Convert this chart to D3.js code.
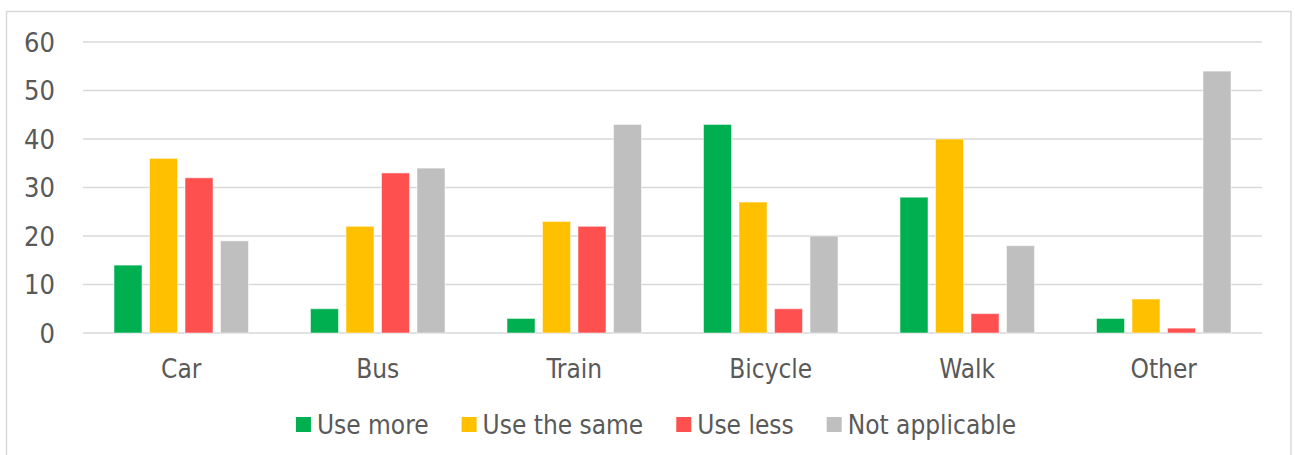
<!DOCTYPE html>
<html>
<head>
<meta charset="utf-8">
<script src="https://cdn.jsdelivr.net/npm/d3@7"></script>
<style>
  body { margin: 0; background: #fff; }
  svg text { font-family: "DejaVu Sans Condensed", "DejaVu Sans", sans-serif; font-stretch: condensed; fill: #595959; }
</style>
</head>
<body>
<svg width="1295" height="455"></svg>
<script>
// chart data
var categories = ["Car", "Bus", "Train", "Bicycle", "Walk", "Other"];
var seriesNames = ["Use more", "Use the same", "Use less", "Not applicable"];
var useMore     = [14, 5, 3, 43, 28, 3];
var useSame     = [36, 22, 23, 27, 40, 7];
var useLess     = [32, 33, 22, 5, 4, 1];
var notApplic   = [19, 34, 43, 20, 18, 54];
var yTicks      = [0, 10, 20, 30, 40, 50, 60];

var colors = ["#00B050", "#FFC000", "#FF5050", "#BFBFBF"];
var series = [useMore, useSame, useLess, notApplic];

var svg = d3.select("svg"),
    plot = {left: 83, right: 1262, top: 42, bottom: 333};

// outer chart frame
svg.append("rect")
    .attr("x", 6.5).attr("y", 11.5)
    .attr("width", 1284.5).attr("height", 480)
    .attr("fill", "#fff")
    .attr("stroke", "#d9d9d9")
    .attr("stroke-width", 1.5);

var x0 = d3.scaleBand().domain(categories).range([plot.left, plot.right]).paddingInner(0).paddingOuter(0);
var y = d3.scaleLinear().domain([0, 60]).range([plot.bottom, plot.top]);

// bars inside a band: 4 bars of 28px with 7px gaps, centred
var barW = 28, barStep = 35.5;

// gridlines
svg.append("g")
  .selectAll("line")
  .data(yTicks)
  .join("line")
    .attr("x1", plot.left).attr("x2", plot.right)
    .attr("y1", d => y(d)).attr("y2", d => y(d))
    .attr("stroke", "#d9d9d9")
    .attr("stroke-width", 1.4);

// y tick labels
svg.append("g")
  .selectAll("text")
  .data(yTicks)
  .join("text")
    .attr("x", 55)
    .attr("y", d => y(d))
    .attr("dy", "0.36em")
    .attr("text-anchor", "end")
    .style("font-size", "27px")
    .text(d => d);

// bars
var groups = svg.append("g")
  .selectAll("g")
  .data(categories)
  .join("g")
    .attr("transform", d => "translate(" + (x0(d) + x0.bandwidth() / 2) + ",0)");

groups.selectAll("rect")
  .data((c, i) => series.map((s, k) => ({k: k, v: s[i]})))
  .join("rect")
    .attr("x", d => (d.k - 1.5) * barStep - barW / 2)
    .attr("width", barW)
    .attr("y", d => y(d.v))
    .attr("height", d => y(0) - y(d.v))
    .attr("fill", d => colors[d.k])
    .attr("stroke", "#fff")
    .attr("stroke-opacity", 0.5)
    .attr("stroke-width", 1);

// category labels
svg.append("g")
  .selectAll("text")
  .data(categories)
  .join("text")
    .attr("x", d => x0(d) + x0.bandwidth() / 2)
    .attr("y", 378)
    .attr("text-anchor", "middle")
    .style("font-size", "26px")
    .text(d => d);

// legend
var legend = svg.append("g");
var items = legend.selectAll("g")
  .data(seriesNames)
  .join("g");

items.append("rect")
    .attr("width", 15).attr("height", 15)
    .attr("y", 417)
    .attr("fill", (d, i) => colors[i]);

items.append("text")
    .attr("x", 21)
    .attr("y", 434)
    .style("font-size", "26px")
    .text(d => d);

var pos = 0;
items.each(function() {
  var w = 21 + d3.select(this).select("text").node().getComputedTextLength();
  d3.select(this).attr("transform", "translate(" + pos + ",0)");
  pos += w + 33;
});
var totalW = pos - 33;
legend.attr("transform", "translate(" + (656 - totalW / 2) + ",0)");
</script>
</body>
</html>
